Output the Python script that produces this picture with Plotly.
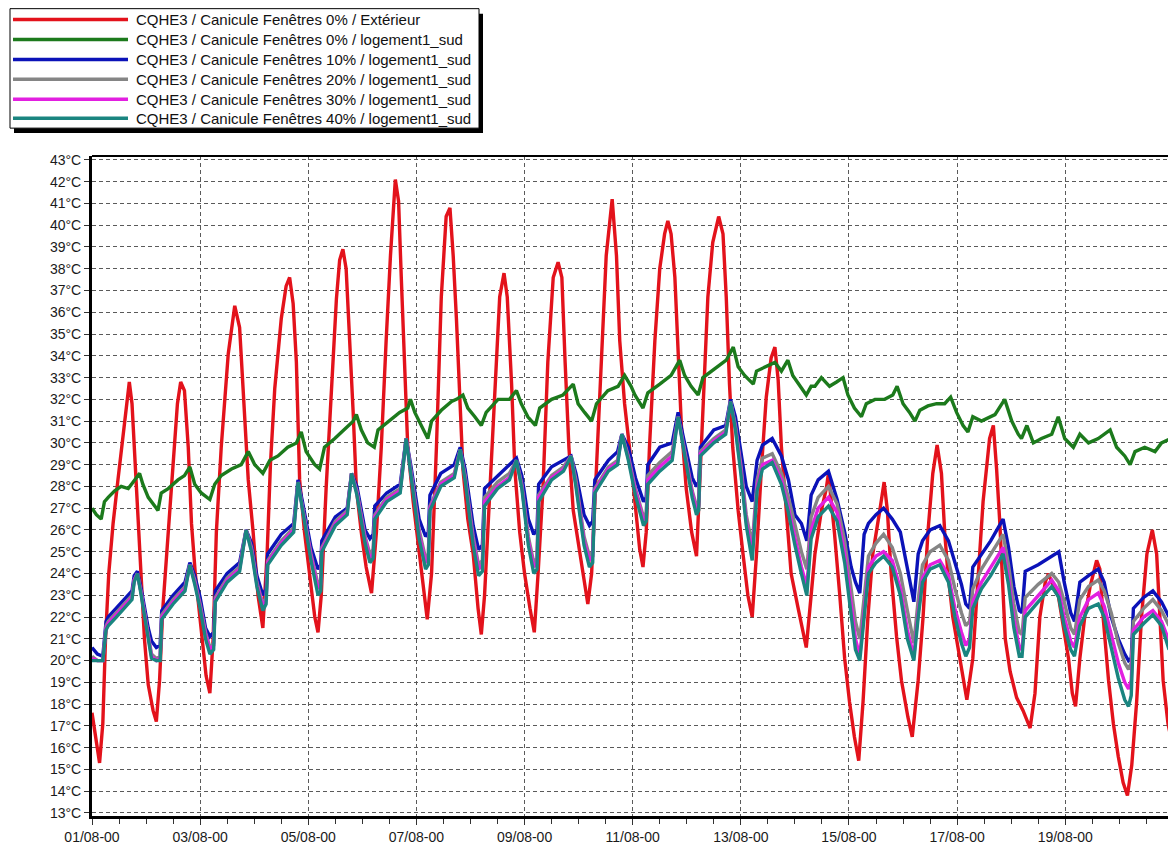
import pandas as pd
import plotly.graph_objects as go

# ---- series -------------------------------------------------------------
start = pd.Timestamp("2000-08-01 00:00")

series_names = [
    "CQHE3 / Canicule Fenêtres 0% / Extérieur",
    "CQHE3 / Canicule Fenêtres 0% / logement1_sud",
    "CQHE3 / Canicule Fenêtres 10% / logement1_sud",
    "CQHE3 / Canicule Fenêtres 20% / logement1_sud",
    "CQHE3 / Canicule Fenêtres 30% / logement1_sud",
    "CQHE3 / Canicule Fenêtres 40% / logement1_sud",
]
series_colors = ["#e3121b", "#1c7a1c", "#0b12b8", "#858585", "#e21fe0", "#1a8580"]

# outdoor temperature (time in days since 01/08 00:00)
ext_days = [0.00, 0.07, 0.14, 0.20, 0.25, 0.31, 0.39, 0.48, 0.57, 0.65, 0.69, 0.74, 0.79, 0.85, 0.91, 0.97,
            1.04, 1.13, 1.19, 1.25, 1.31, 1.41, 1.50, 1.58, 1.64, 1.71, 1.78, 1.84, 1.91,
            2.02, 2.11, 2.18, 2.24, 2.30, 2.39, 2.52, 2.64, 2.73, 2.79, 2.89, 2.98,
            3.07, 3.16, 3.24, 3.30, 3.38, 3.50, 3.59, 3.655, 3.72, 3.78, 3.84, 3.93,
            4.03, 4.12, 4.18, 4.24, 4.33, 4.43, 4.52, 4.58, 4.64, 4.70, 4.77, 4.83, 4.89, 4.98,
            5.07, 5.17, 5.26, 5.35, 5.44, 5.52, 5.61, 5.67, 5.72, 5.78, 5.84, 5.94,
            6.06, 6.15, 6.20, 6.28, 6.37, 6.46, 6.55, 6.62, 6.68, 6.74, 6.80, 6.86, 6.95,
            7.05, 7.14, 7.20, 7.26, 7.35, 7.45, 7.54, 7.62, 7.68, 7.76, 7.82, 7.91,
            8.00, 8.10, 8.18, 8.25, 8.34, 8.43, 8.53, 8.62, 8.69, 8.75, 8.82, 8.90,
            9.02, 9.11, 9.17, 9.24, 9.33, 9.42, 9.51, 9.62, 9.70, 9.76, 9.85, 9.94,
            10.00, 10.07, 10.13, 10.19, 10.25, 10.31, 10.41, 10.50, 10.59, 10.65, 10.71, 10.78, 10.84, 10.90, 10.99,
            11.09, 11.18, 11.24, 11.32, 11.39, 11.48, 11.59, 11.67, 11.73, 11.79, 11.85, 11.95,
            12.04, 12.13, 12.21, 12.29, 12.38, 12.47, 12.56, 12.63, 12.69, 12.75, 12.84, 12.93,
            13.06, 13.15, 13.21, 13.30, 13.37, 13.49, 13.58, 13.62, 13.73, 13.83, 13.92,
            14.01, 14.10, 14.18, 14.26, 14.35, 14.44, 14.57, 14.65, 14.71, 14.78, 14.88, 14.97,
            15.09, 15.17, 15.28, 15.37, 15.46, 15.55, 15.63, 15.71, 15.77, 15.83, 15.92,
            16.05, 16.14, 16.18, 16.29, 16.39, 16.48, 16.60, 16.67, 16.73, 16.79, 16.89, 16.98,
            17.10, 17.22, 17.35, 17.44, 17.53, 17.63, 17.69, 17.78, 17.87, 17.96,
            18.06, 18.13, 18.19, 18.27, 18.36, 18.46, 18.58, 18.64, 18.70, 18.80, 18.89, 18.98,
            19.07, 19.15, 19.23, 19.32, 19.41, 19.51, 19.61, 19.69, 19.75, 19.81, 19.90, 19.95]
ext_temp = [17.6, 16.5, 15.3, 17.1, 21.0, 24.0, 26.3, 28.3, 30.2, 32.2, 32.8, 31.8, 29.4, 26.3, 24.0, 21.0,
            18.9, 17.7, 17.2, 19.1, 22.4, 25.9, 29.4, 31.8, 32.8, 32.4, 29.8, 26.3, 24.0,
            21.2, 19.3, 18.5, 21.0, 25.9, 29.8, 34.1, 36.3, 35.3, 32.6, 28.3, 25.9,
            23.0, 21.5, 25.0, 29.0, 32.5, 35.7, 37.2, 37.6, 36.4, 33.7, 28.3, 25.9,
            24.0, 22.0, 21.3, 23.0, 27.9, 32.7, 36.6, 38.4, 38.9, 38.0, 34.7, 31.4, 27.9, 25.9,
            24.3, 23.1, 25.9, 29.8, 34.7, 38.6, 42.1, 41.1, 37.6, 33.7, 29.8, 27.3,
            24.9, 22.8, 21.9, 24.0, 29.8, 36.7, 40.4, 40.8, 38.6, 35.7, 31.8, 28.8, 26.5,
            24.9, 22.4, 21.2, 23.0, 27.5, 32.7, 36.7, 37.8, 36.7, 32.7, 28.8, 25.9,
            24.0, 22.4, 21.3, 24.0, 27.9, 33.7, 37.6, 38.3, 37.6, 33.7, 29.8, 26.9,
            24.9, 23.4, 22.6, 24.0, 28.8, 33.7, 38.6, 41.2, 38.6, 34.7, 31.8, 29.8,
            28.3, 26.3, 25.1, 24.3, 25.9, 29.8, 34.7, 38.0, 39.6, 40.2, 39.6, 37.6, 33.7, 30.8, 27.9,
            25.9, 24.8, 27.9, 32.7, 36.7, 39.2, 40.4, 39.6, 36.7, 32.7, 29.8, 26.9,
            24.9, 23.0, 22.0, 24.9, 28.8, 32.1, 33.9, 34.4, 32.9, 29.8, 26.9, 24.0,
            22.4, 21.2, 20.6, 23.0, 24.9, 26.9, 27.9, 28.6, 25.9, 23.0, 20.1,
            18.1, 16.5, 15.4, 18.1, 22.0, 24.9, 26.9, 28.2, 26.9, 24.0, 21.1, 19.1,
            17.4, 16.5, 19.1, 22.0, 25.9, 28.6, 29.9, 28.6, 25.9, 24.0, 22.0,
            20.1, 18.7, 18.2, 20.1, 24.0, 27.3, 30.2, 30.8, 28.8, 26.3, 21.0, 19.5,
            18.3, 17.7, 16.9, 18.5, 22.0, 23.6, 24.0, 23.4, 23.0, 21.6,
            20.1, 18.5, 17.9, 20.1, 22.0, 23.4, 24.6, 24.2, 22.0, 19.1, 17.1, 15.6,
            14.4, 13.8, 15.2, 18.1, 22.0, 24.9, 26.0, 24.9, 22.0, 19.1, 17.1, 16.5]

# dwelling, closed windows
log0_days = [0.00, 0.08, 0.17, 0.23, 0.30, 0.42, 0.54, 0.67, 0.79, 0.88, 0.94,
             1.04, 1.16, 1.22, 1.28, 1.41, 1.59, 1.71, 1.81, 1.90,
             2.02, 2.18, 2.27, 2.39, 2.58, 2.76, 2.89,
             3.01, 3.16, 3.29, 3.44, 3.62, 3.78, 3.87, 3.96,
             4.12, 4.21, 4.30, 4.49, 4.67, 4.83, 4.89, 4.98,
             5.10, 5.22, 5.29, 5.48, 5.69, 5.84, 5.89, 5.97,
             6.09, 6.21, 6.28, 6.46, 6.65, 6.74, 6.86, 6.95,
             7.08, 7.20, 7.29, 7.51, 7.72, 7.85, 7.94,
             8.06, 8.20, 8.28, 8.50, 8.71, 8.90, 8.99,
             9.11, 9.24, 9.33, 9.54, 9.73, 9.85, 9.97,
             10.04, 10.19, 10.28, 10.50, 10.71, 10.87, 10.96,
             11.08, 11.21, 11.30, 11.52, 11.73, 11.86, 11.95,
             12.07, 12.23, 12.29, 12.47, 12.63, 12.75, 12.87, 12.96,
             13.09, 13.21, 13.30, 13.37, 13.49, 13.64, 13.77, 13.89, 13.98,
             14.10, 14.23, 14.32, 14.48, 14.66, 14.81, 14.89,
             15.00, 15.12, 15.22, 15.31, 15.46, 15.62, 15.77, 15.88, 15.99,
             16.11, 16.20, 16.29, 16.45, 16.63, 16.70, 16.88,
             17.01, 17.13, 17.19, 17.29, 17.41, 17.56, 17.75, 17.87, 17.99,
             18.15, 18.27, 18.43, 18.61, 18.83, 18.95,
             19.10, 19.20, 19.29, 19.47, 19.66, 19.78, 19.95]
log0_temp = [27.0, 26.7, 26.5, 27.3, 27.5, 27.8, 28.0, 27.9, 28.3, 28.6, 28.1,
             27.5, 27.1, 26.9, 27.7, 27.9, 28.3, 28.5, 28.9, 28.1,
             27.7, 27.4, 28.1, 28.5, 28.8, 29.0, 29.6,
             29.0, 28.6, 29.2, 29.4, 29.8, 30.0, 30.5, 29.6,
             29.0, 28.8, 29.8, 30.2, 30.6, 31.0, 31.3, 30.6,
             30.0, 29.8, 30.6, 31.0, 31.4, 31.6, 32.0, 31.4,
             30.8, 30.2, 31.0, 31.5, 31.9, 32.0, 32.2, 31.6,
             31.2, 30.8, 31.4, 32.0, 32.0, 32.4, 31.8,
             31.2, 30.8, 31.6, 32.0, 32.2, 32.7, 31.8,
             31.4, 31.0, 31.8, 32.4, 32.6, 33.1, 32.6,
             32.2, 31.6, 32.3, 32.7, 33.1, 33.8, 33.1,
             32.6, 32.2, 33.0, 33.4, 33.8, 34.4, 33.5,
             33.1, 32.7, 33.3, 33.5, 33.7, 33.3, 33.8, 33.1,
             32.6, 32.2, 32.6, 32.6, 33.0, 32.6, 32.8, 33.0, 32.2,
             31.6, 31.2, 31.8, 32.0, 32.0, 32.2, 32.6,
             31.8, 31.4, 31.0, 31.5, 31.7, 31.8, 31.8, 32.1, 31.4,
             30.8, 30.5, 31.2, 31.0, 31.2, 31.3, 32.0,
             31.0, 30.4, 30.2, 30.8, 30.0, 30.2, 30.4, 31.2, 30.2,
             29.8, 30.4, 30.0, 30.2, 30.6, 29.8,
             29.4, 29.0, 29.6, 29.8, 29.6, 30.0, 30.2]

# dwelling, windows open 10 / 20 / 30 / 40 %
open_days = [0.00, 0.10, 0.20, 0.26, 0.30, 0.45, 0.60, 0.74, 0.78, 0.84, 0.91, 0.97,
             1.04, 1.10, 1.19, 1.26, 1.29, 1.50, 1.72, 1.81, 1.90,
             2.00, 2.10, 2.18, 2.25, 2.28, 2.50, 2.73, 2.85, 2.95,
             3.05, 3.16, 3.22, 3.25, 3.50, 3.73, 3.81, 3.90,
             4.05, 4.18, 4.23, 4.25, 4.50, 4.72, 4.80, 4.90,
             5.05, 5.14, 5.20, 5.23, 5.45, 5.70, 5.81, 5.90,
             6.05, 6.17, 6.22, 6.25, 6.45, 6.70, 6.81, 6.90,
             7.05, 7.15, 7.22, 7.26, 7.50, 7.72, 7.85, 7.95,
             8.07, 8.17, 8.23, 8.26, 8.50, 8.72, 8.86, 8.95,
             9.10, 9.20, 9.26, 9.30, 9.55, 9.72, 9.80, 9.92,
             10.05, 10.20, 10.25, 10.28, 10.50, 10.73, 10.84, 10.95,
             11.10, 11.18, 11.22, 11.25, 11.50, 11.72, 11.81, 11.90,
             12.00, 12.10, 12.21, 12.30, 12.40, 12.58, 12.75, 12.88,
             13.00, 13.12, 13.22, 13.30, 13.43, 13.62, 13.78, 13.92,
             14.04, 14.12, 14.20, 14.28, 14.36, 14.50, 14.64, 14.80, 14.95,
             15.08, 15.20, 15.28, 15.36, 15.50, 15.68, 15.84, 15.96,
             16.08, 16.16, 16.23, 16.29, 16.45, 16.62, 16.85, 16.95,
             17.05, 17.15, 17.20, 17.26, 17.50, 17.75, 17.88, 17.98,
             18.10, 18.17, 18.27, 18.43, 18.61, 18.72, 18.85, 18.98,
             19.10, 19.17, 19.22, 19.26, 19.45, 19.62, 19.78, 19.92]
open10_temp = [20.6, 20.3, 20.2, 21.8, 22.0, 22.4, 22.8, 23.2, 23.9, 24.1, 23.3, 22.4,
               21.5, 20.9, 20.6, 20.7, 22.3, 23.0, 23.6, 24.5, 23.9,
               22.9, 21.5, 21.1, 21.3, 23.2, 24.0, 24.5, 26.0, 25.4,
               23.9, 23.0, 23.3, 24.9, 25.8, 26.3, 28.3, 27.2,
               25.2, 24.2, 24.4, 25.5, 26.6, 27.0, 28.6, 28.0,
               26.0, 25.6, 25.8, 27.1, 27.7, 28.1, 30.2, 28.9,
               26.5, 25.7, 25.9, 27.6, 28.6, 29.0, 29.8, 28.8,
               26.2, 25.1, 25.3, 27.9, 28.5, 29.0, 29.3, 28.5,
               26.5, 25.8, 26.0, 28.1, 28.9, 29.2, 29.4, 28.6,
               26.7, 26.2, 26.4, 28.3, 29.2, 29.6, 30.4, 29.8,
               28.4, 27.3, 27.5, 29.0, 29.8, 30.0, 31.4, 30.1,
               28.4, 28.0, 28.2, 29.8, 30.6, 30.8, 32.0, 31.2,
               29.7, 28.0, 27.3, 29.2, 29.9, 30.2, 29.4, 28.3,
               26.7, 26.3, 25.5, 27.6, 28.3, 28.7, 27.4, 25.9,
               24.3, 23.6, 23.1, 25.8, 26.3, 26.7, 27.0, 26.5, 25.9,
               24.3, 22.7, 24.9, 25.5, 26.0, 26.2, 25.5, 24.5,
               23.5, 22.6, 22.4, 24.3, 24.9, 25.5, 26.5, 25.2,
               23.4, 22.3, 22.2, 24.1, 24.4, 24.8, 25.0, 23.6,
               22.2, 21.8, 23.6, 23.9, 24.2, 23.6, 22.0, 21.0,
               20.3, 20.0, 20.1, 22.4, 22.9, 23.2, 22.7, 22.0]
open20_temp = [20.2, 20.0, 20.0, 21.6, 21.8, 22.2, 22.6, 23.0, 23.7, 24.0, 23.1, 22.2,
               21.2, 20.3, 20.1, 20.2, 22.1, 22.8, 23.4, 24.4, 23.7,
               22.6, 21.3, 20.6, 20.8, 22.9, 23.8, 24.3, 26.0, 25.2,
               23.6, 22.6, 22.9, 24.6, 25.5, 26.1, 28.2, 27.0,
               24.9, 23.5, 23.7, 25.2, 26.4, 26.9, 28.6, 27.8,
               25.7, 24.9, 25.1, 26.7, 27.5, 27.9, 30.2, 28.7,
               26.0, 24.7, 24.9, 27.1, 28.2, 28.6, 29.7, 28.5,
               25.7, 24.4, 24.6, 27.5, 28.2, 28.6, 29.2, 28.1,
               25.7, 24.5, 24.7, 27.6, 28.5, 28.9, 29.4, 28.3,
               25.7, 24.8, 25.0, 27.9, 28.9, 29.2, 30.4, 29.4,
               27.9, 26.6, 26.8, 28.5, 29.1, 29.6, 31.2, 29.8,
               27.8, 27.1, 27.3, 29.6, 30.2, 30.6, 31.9, 30.8,
               29.0, 26.7, 25.3, 28.3, 29.3, 29.5, 28.6, 27.5,
               26.2, 25.0, 24.2, 26.6, 27.5, 28.0, 27.2, 25.5,
               23.3, 21.8, 21.0, 23.0, 24.8, 25.4, 25.8, 25.2, 24.0,
               22.3, 20.8, 22.8, 24.4, 25.0, 25.3, 24.6, 23.3,
               22.2, 21.6, 21.8, 23.3, 24.2, 24.9, 25.8, 24.4,
               22.6, 21.3, 21.2, 22.9, 23.5, 24.0, 23.6, 22.7,
               21.5, 21.2, 22.8, 23.4, 23.7, 23.2, 22.2, 20.8,
               19.9, 19.6, 19.9, 21.8, 22.4, 22.8, 22.3, 21.6]
open30_temp = [20.1, 20.0, 20.0, 21.5, 21.7, 22.1, 22.5, 22.9, 23.7, 24.0, 23.1, 22.1,
               21.1, 20.2, 20.0, 20.1, 22.0, 22.7, 23.3, 24.4, 23.6,
               22.5, 21.2, 20.5, 20.7, 22.8, 23.7, 24.2, 26.0, 25.1,
               23.5, 22.5, 22.8, 24.5, 25.4, 26.0, 28.2, 26.9,
               24.8, 23.3, 23.5, 25.1, 26.3, 26.8, 28.6, 27.7,
               25.6, 24.7, 24.9, 26.6, 27.4, 27.8, 30.2, 28.6,
               25.8, 24.5, 24.7, 27.0, 28.1, 28.5, 29.7, 28.4,
               25.5, 24.2, 24.4, 27.3, 28.0, 28.4, 29.2, 28.0,
               25.5, 24.3, 24.5, 27.5, 28.4, 28.8, 29.4, 28.1,
               25.5, 24.6, 24.8, 27.8, 28.8, 29.1, 30.4, 29.3,
               27.8, 26.4, 26.6, 28.3, 28.9, 29.4, 31.2, 29.7,
               27.7, 26.9, 27.1, 29.5, 30.1, 30.5, 31.9, 30.7,
               28.8, 26.4, 24.9, 28.0, 29.0, 29.2, 28.3, 27.0,
               25.6, 24.3, 23.4, 26.0, 27.0, 27.5, 26.8, 24.9,
               22.6, 21.0, 20.2, 22.3, 24.3, 24.8, 25.0, 24.6, 23.3,
               21.4, 20.2, 22.2, 23.8, 24.4, 24.6, 23.9, 22.4,
               21.3, 20.7, 21.0, 22.7, 23.6, 24.3, 25.2, 23.8,
               21.9, 20.6, 20.5, 22.3, 23.0, 23.7, 23.2, 22.0,
               20.9, 20.6, 22.0, 22.8, 23.1, 22.5, 21.2, 19.9,
               19.0, 18.7, 19.1, 21.4, 22.0, 22.3, 21.8, 20.9]
open40_temp = [20.0, 20.0, 20.0, 21.4, 21.6, 22.0, 22.4, 22.8, 23.6, 24.0, 23.0, 22.0,
               21.0, 20.1, 20.0, 20.0, 21.9, 22.6, 23.2, 24.4, 23.5,
               22.4, 21.0, 20.3, 20.5, 22.7, 23.6, 24.1, 26.0, 25.0,
               23.4, 22.3, 22.6, 24.4, 25.3, 25.9, 28.2, 26.8,
               24.6, 23.0, 23.2, 25.0, 26.2, 26.7, 28.6, 27.6,
               25.4, 24.5, 24.7, 26.5, 27.3, 27.7, 30.2, 28.5,
               25.6, 24.2, 24.4, 26.9, 28.0, 28.4, 29.7, 28.3,
               25.3, 23.9, 24.1, 27.1, 27.9, 28.3, 29.2, 27.9,
               25.3, 24.0, 24.2, 27.3, 28.3, 28.7, 29.4, 28.0,
               25.3, 24.3, 24.5, 27.7, 28.7, 29.0, 30.4, 29.2,
               27.6, 26.2, 26.4, 28.1, 28.7, 29.2, 31.2, 29.6,
               27.5, 26.7, 26.9, 29.4, 30.0, 30.4, 31.9, 30.6,
               28.6, 26.2, 24.6, 27.8, 28.8, 29.1, 28.1, 26.8,
               25.3, 24.0, 23.0, 25.6, 26.6, 27.1, 26.4, 24.5,
               22.0, 20.5, 20.0, 22.0, 24.0, 24.5, 24.8, 24.3, 23.0,
               21.0, 20.0, 22.0, 23.6, 24.2, 24.4, 23.6, 22.0,
               20.8, 20.2, 20.6, 22.4, 23.3, 23.9, 24.9, 23.5,
               21.5, 20.2, 20.2, 22.0, 22.7, 23.4, 22.9, 21.6,
               20.5, 20.2, 21.6, 22.4, 22.6, 22.0, 20.6, 19.2,
               18.2, 17.9, 18.4, 21.2, 21.7, 22.1, 21.6, 20.5]

y_tick_values = list(range(13, 44))
y_tick_labels = [f"{v}°C" for v in y_tick_values]

# ---- figure -------------------------------------------------------------
W, H = 1168, 845
M_L, M_R, M_T, M_B = 92, 0, 156, 26
PW, PH = W - M_L - M_R, H - M_T - M_B


def when(days):
    return start + pd.to_timedelta(days, unit="D")


def px_x(x):
    return (x - M_L) / PW


def px_y(y):
    return (H - M_B - y) / PH


fig = go.Figure()
series = [
    (ext_days, ext_temp),
    (log0_days, log0_temp),
    (open_days, open10_temp),
    (open_days, open20_temp),
    (open_days, open30_temp),
    (open_days, open40_temp),
]
for (d, t), name, color in zip(series, series_names, series_colors):
    fig.add_trace(go.Scatter(
        x=when(d), y=t, mode="lines", name=name,
        line=dict(color=color, width=3.4), showlegend=False,
        hovertemplate="%{x|%d/%m %H:%M}  %{y:.1f}°C<extra></extra>",
    ))

font = "Liberation Sans, Arial, sans-serif"
grid = dict(showgrid=True, gridcolor="#5a5a5a", gridwidth=1, griddash="4px,3px")

fig.update_layout(
    width=W, height=H,
    margin=dict(l=M_L, r=M_R, t=M_T, b=M_B, pad=0),
    paper_bgcolor="white", plot_bgcolor="white",
    font=dict(family=font, size=14, color="#1a1a1a"),
    showlegend=False,
    xaxis=dict(
        type="date",
        range=[start, when(19.9)],
        tick0=start, dtick=2 * 86400000, tickformat="%d/%m-%y",
        ticks="outside", ticklen=6, tickcolor="#333333",
        minor=dict(dtick=12 * 3600000, ticks="outside", ticklen=5,
                   tickcolor="#333333", showgrid=False),
        showline=True, linecolor="black", linewidth=3,
        zeroline=False, **grid,
    ),
    yaxis=dict(
        range=[12.86, 43.18],
        tickmode="array", tickvals=y_tick_values, ticktext=y_tick_labels,
        ticks="outside", ticklen=5, tickcolor="#333333",
        showline=True, linecolor="black", linewidth=3,
        zeroline=False, **grid,
    ),
)

# top frame line
shapes = [dict(type="line", xref="paper", yref="paper", x0=0, x1=1, y0=1, y1=1,
               line=dict(color="black", width=2))]

# legend box with drop shadow
bx0, by0, bx1, by1 = 10, 8, 479, 128
shapes.append(dict(type="rect", xref="paper", yref="paper",
                   x0=px_x(bx0 + 4), x1=px_x(bx1 + 4), y0=px_y(by0 + 5), y1=px_y(by1 + 5),
                   fillcolor="black", line=dict(width=0)))
shapes.append(dict(type="rect", xref="paper", yref="paper",
                   x0=px_x(bx0), x1=px_x(bx1), y0=px_y(by0), y1=px_y(by1),
                   fillcolor="white", line=dict(color="black", width=1)))
annotations = []
row_y = [19, 39, 59, 79, 99, 118]
for name, color, ry in zip(series_names, series_colors, row_y):
    shapes.append(dict(type="line", xref="paper", yref="paper",
                       x0=px_x(13), x1=px_x(128), y0=px_y(ry), y1=px_y(ry),
                       line=dict(color=color, width=3.5)))
    annotations.append(dict(xref="paper", yref="paper", x=px_x(134), y=px_y(ry),
                            xanchor="left", yanchor="middle", showarrow=False,
                            text=name, font=dict(family=font, size=15, color="#111111")))

fig.update_layout(shapes=shapes, annotations=annotations)

fig.write_html("out.html")
